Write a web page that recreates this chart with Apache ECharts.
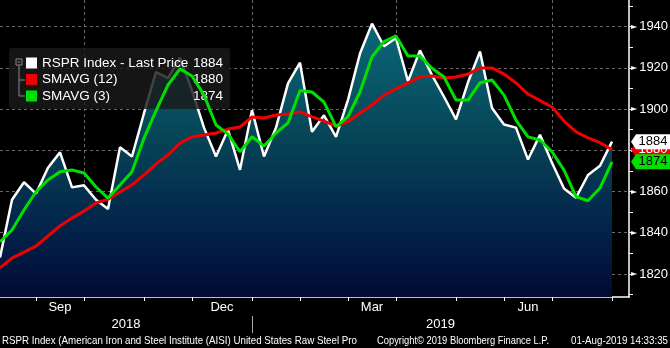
<!DOCTYPE html>
<html><head><meta charset="utf-8">
<script src="https://cdn.jsdelivr.net/npm/echarts@6/dist/echarts.min.js"></script>
<style>html,body{margin:0;padding:0;background:#000}#c{width:670px;height:348px}</style>
</head><body><div id="c"></div>
<script>
// ---- data (weekly points) ----
const price = [1828,1856,1864.5,1859,1871.5,1879,1862,1863,1856,1851.5,1881.5,1877,1898,1918,1915,1925,1909,1891,1877,1890,1870.5,1899.5,1877,1891,1912.5,1922.5,1889,1897,1886.5,1904.5,1927,1941.5,1930.5,1934.5,1913.5,1928.5,1916.5,1906,1895,1913,1928,1900.5,1892.5,1891,1875.5,1887.5,1874,1861.5,1857,1868,1872.5,1884.2];
const sma12 = [1822.9,1827.7,1830.6,1833.5,1838.4,1843.3,1847.1,1850.5,1854.4,1856.3,1859.8,1863.2,1868,1873.4,1877.7,1883.5,1886.5,1887.4,1888.4,1890.3,1891.3,1896.2,1895.7,1897.1,1897.6,1898.6,1896.2,1894.2,1891.8,1893.9,1898.1,1902,1906.8,1909.8,1912.7,1915.6,1916.1,1915.1,1915.6,1917,1920,1920,1917,1912.7,1907.3,1904.1,1901,1894.2,1888.9,1886,1883.7,1880.3];
const sma3 = [1835.6,1841.3,1851,1859.9,1865.6,1869.6,1870.4,1869,1862.2,1856.8,1863.2,1869.6,1885.9,1899.1,1911.7,1919.5,1916.1,1906.8,1892.3,1887.9,1879.3,1886.6,1882.1,1888.4,1893.3,1909,1908.3,1903.4,1891.5,1896.3,1908.3,1925.4,1932.7,1935.5,1925.8,1925.8,1919.8,1915.6,1904.4,1904.4,1912.8,1914.1,1906.8,1894.7,1886.5,1885,1879.3,1870.4,1857.5,1855.5,1861.7,1874.4];
const seriesNames = ['RSPR Index - Last Price','SMAVG (12)','SMAVG (3)'];
const seriesColors = ['#ffffff','#f00000','#00e000'];
const tagTextColors = ['#000000','#ffffff','#000000'];
const yTicks = [1820,1840,1860,1880,1900,1920,1940];
const yMinorTicks = [1810,1820,1830,1840,1850,1860,1870,1880,1890,1900,1910,1920,1930,1940,1950];
const monthTickIdx = [3,7,12,16,21,25,29,33,38,42,46,51];
const monthLabels = ['Sep','Dec','Mar','Jun'];
const monthLabelPos = [5,18.5,31,44];
const quarterGridIdx = [7,21,33,46];
const yearLabels = ['2018','2019'];
const yearLabelPos = [10.5,36.7];
const yearSepIdx = [21];
const footerLeft = 'RSPR Index (American Iron and Steel Institute (AISI) United States Raw Steel Pro';
const footerMid = 'Copyright\u00A9 2019 Bloomberg Finance L.P.';
const footerRight = '01-Aug-2019 14:33:35';

// ---- layout ----
const Y_MIN = 1808.8, Y_MAX = 1952.95;
const X_MAX = 51 * 629 / 612;
const FONT = "'Liberation Sans Narrow','Liberation Sans',Arial,sans-serif";
const LFONT = "'Liberation Sans',Arial,sans-serif";

function nearestLabel(v, pos, labels){
  let best = 0;
  for (let i = 1; i < pos.length; i++) if (Math.abs(pos[i]-v) < Math.abs(pos[best]-v)) best = i;
  return labels[best];
}
const cv = document.createElement('canvas').getContext('2d');
function fitScale(text, font, target){ cv.font = font; return target / cv.measureText(text).width; }
const FF = "10.5px 'Liberation Sans'";

const allData = [price, sma12, sma3];
const lastVals = allData.map(a => a[a.length-1]);

const chart = echarts.init(document.getElementById('c'), null, {renderer:'canvas'});

const series = allData.map((arr, k) => ({
  name: seriesNames[k],
  type: 'line',
  xAxisIndex: 0, yAxisIndex: 0,
  data: arr.map((v,i) => [i, v]),
  symbol: 'none',
  clip: false,
  color: seriesColors[k],
  lineStyle: {color: seriesColors[k], width: k === 0 ? 2.5 : 3},
  areaStyle: k === 0 ? {
    color: new echarts.graphic.LinearGradient(0,0,0,1,[
      {offset:0, color:'#0b6878'},
      {offset:0.4, color:'#064658'},
      {offset:0.75, color:'#03234a'},
      {offset:1, color:'#020a35'}
    ]), opacity: 1
  } : undefined,
  z: 2 + k,
  markPoint: {
    z: [9,7,8][k],
    silent: true,
    symbol: 'path://M0,6 L5,0 L40,0 L40,12 L5,12 Z',
    symbolKeepAspect: false,
    symbolSize: [40, 15],
    symbolOffset: [39, 0],
    itemStyle: {color: seriesColors[k]},
    label: {show:true, position:'inside', color: tagTextColors[k], fontSize: 13, fontFamily: FONT, offset:[2,0],
      formatter: p => String(Math.round(p.value))},
    data: [{coord: [arr.length-1, arr[arr.length-1]], value: arr[arr.length-1]}]
  }
}));

const option = {
  animation: false,
  backgroundColor: '#000',
  grid: {left: 0, right: 41, top: 0, bottom: 51, outerBoundsMode: 'none', containLabel: false},
  legend: {
    orient: 'vertical', left: 9, top: 48,
    padding: [7, 7, 5, 17], itemGap: 0.5,
    itemWidth: 11, itemHeight: 11, icon: 'rect',
    backgroundColor: 'rgba(26,26,26,0.82)', borderRadius: 3,
    selectedMode: false,
    data: seriesNames.map((n,k) => ({name: n, itemStyle: {color: seriesColors[k]}})),
    formatter: name => {
      const k = seriesNames.indexOf(name);
      return '{n|' + name + '}{v|' + Math.round(lastVals[k]) + '}';
    },
    textStyle: {
      color: '#fff', fontSize: 13.5, fontFamily: LFONT, lineHeight: 16,
      rich: {
        n: {width: 140, color: '#fff', fontSize: 13.5, fontFamily: LFONT, lineHeight: 16},
        v: {width: 41, align: 'right', color: '#fff', fontSize: 13.5, fontFamily: LFONT, lineHeight: 16}
      }
    }
  },
  xAxis: [
    {type:'value', min:0, max:X_MAX, position:'bottom',
      axisLine:{show:true, onZero:false, lineStyle:{color:'#fff', width:1.5}},
      axisTick:{show:true, customValues: monthTickIdx, length:4, lineStyle:{color:'#fff', width:1}},
      axisLabel:{show:true, customValues: monthLabelPos, formatter: v => nearestLabel(v, monthLabelPos, monthLabels),
        color:'#fff', fontSize:13, fontFamily: FONT, margin:4},
      splitLine:{show:false}},
    {type:'value', min:0, max:X_MAX, position:'bottom',
      axisLine:{show:false, onZero:false},
      axisTick:{show:false, customValues: quarterGridIdx},
      axisLabel:{show:false},
      splitLine:{show:true, lineStyle:{color:'#6a6a6a', width:1, type:[3,3]}}},
    {type:'value', min:0, max:X_MAX, position:'bottom', offset:19,
      axisLine:{show:false, onZero:false},
      axisTick:{show:true, customValues: yearSepIdx, length:17, lineStyle:{color:'#aaaaaa', width:1}},
      axisLabel:{show:true, customValues: yearLabelPos, formatter: v => nearestLabel(v, yearLabelPos, yearLabels),
        color:'#fff', fontSize:13, fontFamily: FONT, margin:2},
      splitLine:{show:false}}
  ],
  yAxis: [
    {type:'value', position:'right', min:Y_MIN, max:Y_MAX,
      axisLine:{show:false, onZero:false},
      axisTick:{show:false, customValues: yTicks},
      axisLabel:{show:true, customValues: yTicks, margin:2,
        formatter: v => '{a|\u25BA}{b|' + v + '}',
        rich:{a:{fontSize:8, color:'#fff', fontFamily:'DejaVu Sans', padding:[0,2,0,0]},
              b:{fontSize:13, color:'#fff', fontFamily: FONT}}},
      splitLine:{show:true, lineStyle:{color:'#6a6a6a', width:1, type:[3,3]}}},
    {type:'value', position:'right', min:Y_MIN, max:Y_MAX,
      axisLine:{show:true, onZero:false, lineStyle:{color:'#fff', width:1.5}},
      axisTick:{show:true, customValues: yMinorTicks, length:4, lineStyle:{color:'#fff', width:1}},
      axisLabel:{show:false},
      splitLine:{show:false}}
  ],
  series: series,
  graphic: [
    {type:'rect', z:100, shape:{x:16, y:59, width:6, height:6}, style:{fill:'none', stroke:'#8a8a8a', lineWidth:1}},
    {type:'line', z:100, shape:{x1:17.5, y1:62, x2:20.5, y2:62}, style:{stroke:'#8a8a8a', lineWidth:1}},
    {type:'line', z:100, shape:{x1:19, y1:65, x2:19, y2:96}, style:{stroke:'#8a8a8a', lineWidth:1}},
    {type:'line', z:100, shape:{x1:19, y1:80, x2:25, y2:80}, style:{stroke:'#8a8a8a', lineWidth:1}},
    {type:'line', z:100, shape:{x1:19, y1:96, x2:25, y2:96}, style:{stroke:'#8a8a8a', lineWidth:1}},
    {type:'text', z:100, x:2, y:341, scaleX: fitScale(footerLeft, FF, 355),
      style:{text: footerLeft, fill:'#fff', font: FF, align:'left', verticalAlign:'middle'}},
    {type:'text', z:100, x:377, y:341, scaleX: fitScale(footerMid, FF, 172),
      style:{text: footerMid, fill:'#fff', font: FF, align:'left', verticalAlign:'middle'}},
    {type:'text', z:100, x:668, y:341, scaleX: fitScale(footerRight, FF, 97),
      style:{text: footerRight, fill:'#fff', font: FF, align:'right', verticalAlign:'middle'}}
  ]
};
chart.setOption(option);
</script>
</body></html>
